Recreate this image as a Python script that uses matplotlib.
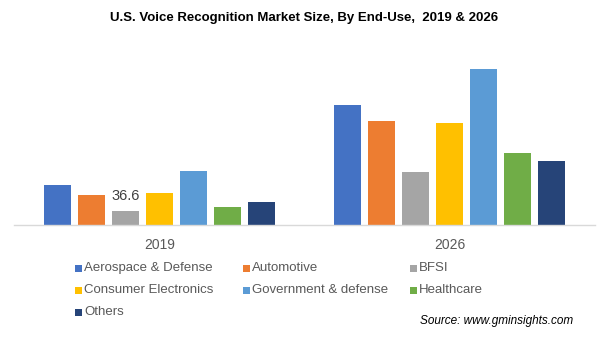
import matplotlib
matplotlib.use("Agg")
import matplotlib.pyplot as plt
from matplotlib.patches import Rectangle
import numpy as np

plt.rcParams['font.family'] = ['Liberation Sans', 'DejaVu Sans']

years = ["2019", "2026"]
segments = ["Aerospace & Defense", "Automotive", "BFSI", "Consumer Electronics",
            "Government & defense", "Healthcare", "Others"]
values_2019 = [104.6, 78.4, 36.6, 83.7, 141.0, 47.0, 60.0]
values_2026 = [313.7, 271.9, 138.5, 266.6, 407.8, 188.2, 167.3]
colors = ["#4472C4", "#ED7D31", "#A5A5A5", "#FFC000", "#5B9BD5", "#70AD47", "#264478"]
title = "U.S. Voice Recognition Market Size, By End-Use,  2019 & 2026"
source = "Source: www.gminsights.com"

fig = plt.figure(figsize=(6.09, 3.42), dpi=100)
ax = fig.add_axes([0.0238, 0.342, 0.9524, 0.503])

data = np.array([values_2019, values_2026])
x = np.arange(len(years))
step = 0.117
width = 0.093
n = len(segments)
for i, (seg, col) in enumerate(zip(segments, colors)):
    offs = (i - (n - 1) / 2) * step
    ax.bar(x + offs, data[:, i], width=width, color=col, label=seg)
    if seg == "BFSI":
        ax.annotate(f"{values_2019[i]:.1f}", (x[0] + offs, values_2019[i]),
                    xytext=(0, 5.5), textcoords="offset points", ha="center",
                    va="bottom", fontsize=10.5, color="#404040")

ax.set_xlim(-0.5, 1.5)
ax.set_ylim(0, 450)
ax.set_xticks(x)
ax.set_xticklabels(years, fontsize=10, color="#595959")
ax.tick_params(axis="x", length=0, pad=9)
ax.set_yticks([])
for s in ["top", "right", "left"]:
    ax.spines[s].set_visible(False)
ax.spines["bottom"].set_color("#D9D9D9")
ax.spines["bottom"].set_linewidth(1.0)

fig.text(0.5, 1 - 18 / 342, title, ha="center", va="center", fontsize=9.5,
         fontweight="bold", color="#000000")

# legend (row-wise, 3 columns)
col_x = [78, 246, 413]
row_y = [268, 290, 312]
W, H = 609, 342
for i, (seg, col) in enumerate(zip(segments, colors)):
    r, c = divmod(i, 3)
    mx, my = col_x[c], row_y[r]
    fig.add_artist(Rectangle(((mx - 3.5) / W, 1 - (my + 3.5) / H), 7 / W, 7 / H,
                             transform=fig.transFigure, color=col, lw=0))
    fig.text((mx + 6) / W, 1 - my / H, seg, ha="left", va="center",
             fontsize=9.5, color="#595959")

fig.text(573 / W, 1 - 321 / H, source, ha="right", va="center", fontsize=8.5,
         style="italic", color="#000000")

fig.savefig("out.png", dpi=100)
